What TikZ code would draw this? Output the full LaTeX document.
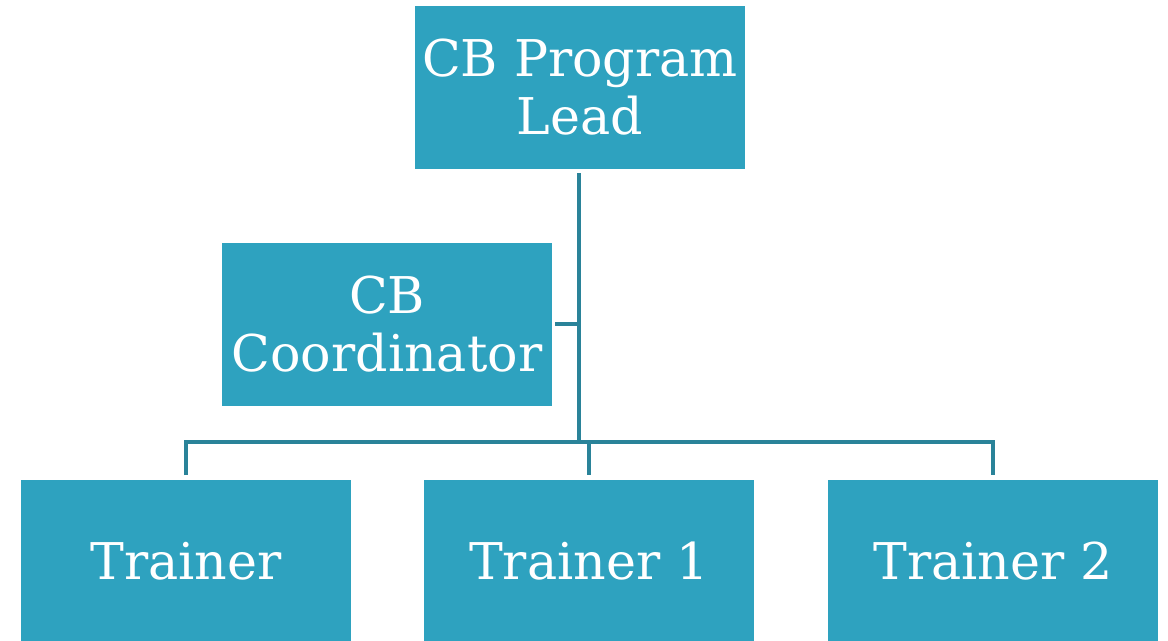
\documentclass[tikz,border=0pt]{standalone}
\usepackage{fontspec}
\setmainfont{DejaVu Serif}
\definecolor{boxfill}{HTML}{2EA2BF}
\definecolor{linecol}{HTML}{2A8399}
\begin{document}
\begin{tikzpicture}[x=0.75pt,y=-0.75pt,
  orgbox/.style={fill=boxfill,draw=none,text=white,align=center,inner sep=0pt,
    minimum width=247.5pt,minimum height=122.25pt,
    font=\fontsize{38}{43.5}\selectfont},
  conn/.style={draw=linecol,line width=2.6pt}]
\useasboundingbox (0,0) rectangle (1168,640);
\clip (0,0) rectangle (1168,640);
\node[orgbox] (lead) at (580,87.5) {CB Program\\Lead};
\node[orgbox] (coord) at (387,324.5) {CB\\Coordinator};
\node[orgbox] (t0) at (186,561) {Trainer};
\node[orgbox] (t1) at (589,561) {Trainer 1};
\node[orgbox] (t2) at (993,561) {Trainer 2};
\coordinate (j) at (579,442);
\coordinate (cj) at (579,324);
\draw[conn] (579,173) -- (j);
\draw[conn] ([xshift=2.25pt]coord.east |- cj) -- (cj);
\draw[conn] ([yshift=3pt]t0.north) -- (t0.north |- j) -- (t2.north |- j) -- ([yshift=3pt]t2.north);
\draw[conn] (t1.north |- j) -- ([yshift=3pt]t1.north);
\end{tikzpicture}
\end{document}
